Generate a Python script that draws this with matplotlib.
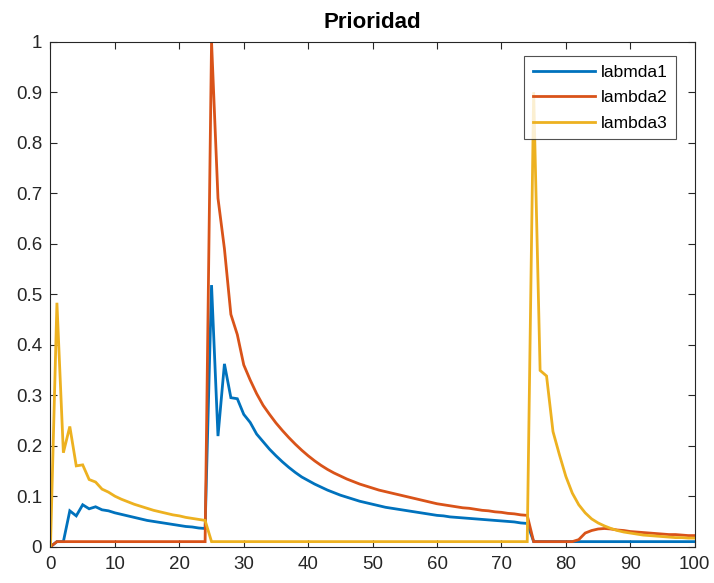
import matplotlib
matplotlib.use("Agg")
import matplotlib.pyplot as plt

plt.rcParams['font.family'] = ['Liberation Sans', 'DejaVu Sans']

x = list(range(0, 101))

lambda1 = (
    [0.0, 0.01, 0.01, 0.071, 0.061, 0.083, 0.075, 0.079, 0.073, 0.071,
     0.067, 0.064, 0.061, 0.058, 0.055, 0.052, 0.050, 0.048, 0.046, 0.044,
     0.042, 0.040, 0.039, 0.037, 0.036,
     0.518, 0.219, 0.362, 0.295, 0.293, 0.262, 0.246, 0.223, 0.208, 0.193,
     0.180, 0.168, 0.157, 0.147, 0.138, 0.131, 0.124, 0.118, 0.112, 0.107,
     0.102, 0.098, 0.094, 0.090, 0.087, 0.084, 0.081, 0.078, 0.076, 0.074,
     0.072, 0.070, 0.068, 0.066, 0.064, 0.062, 0.061, 0.059, 0.058, 0.057,
     0.056, 0.055, 0.054, 0.053, 0.052, 0.051, 0.050, 0.049, 0.047, 0.046]
    + [0.01] * 26
)

lambda2 = (
    [0.0] + [0.01] * 24
    + [1.0, 0.69, 0.59, 0.46, 0.42, 0.36, 0.33, 0.303, 0.280, 0.262,
       0.245, 0.230, 0.216, 0.203, 0.191, 0.180, 0.170, 0.161, 0.153, 0.146,
       0.140, 0.134, 0.129, 0.124, 0.120, 0.116, 0.112, 0.109, 0.106, 0.103,
       0.100, 0.097, 0.094, 0.091, 0.088, 0.085, 0.083, 0.081, 0.079, 0.077,
       0.076, 0.074, 0.072, 0.071, 0.069, 0.068, 0.066, 0.065, 0.063, 0.062]
    + [0.01] * 7
    + [0.014, 0.027, 0.032, 0.035, 0.036, 0.035, 0.033, 0.032, 0.030, 0.029,
       0.028, 0.027, 0.026, 0.025, 0.024, 0.024, 0.023, 0.022, 0.022]
)

lambda3 = (
    [0.0, 0.483, 0.186, 0.238, 0.160, 0.162, 0.133, 0.128, 0.114, 0.108,
     0.100, 0.094, 0.089, 0.084, 0.080, 0.076, 0.072, 0.069, 0.066, 0.063,
     0.061, 0.058, 0.056, 0.054, 0.052]
    + [0.01] * 50
    + [0.9, 0.349, 0.338, 0.228, 0.182, 0.139, 0.106, 0.083, 0.067, 0.055,
       0.047, 0.041, 0.036, 0.032, 0.029, 0.027, 0.025, 0.023, 0.022, 0.021,
       0.020, 0.019, 0.018, 0.018, 0.017, 0.017]
)

series_names = ['labmda1', 'lambda2', 'lambda3']
colors = ['#0072BD', '#D95319', '#EDB120']
title = 'Prioridad'

fig = plt.figure(figsize=(7.14, 5.83), dpi=100)
ax = fig.add_axes([0.0707, 0.0623, 0.9023, 0.8662])

for ys, name, c in zip([lambda1, lambda2, lambda3], series_names, colors):
    ax.plot(x, ys, color=c, lw=2.0, label=name, solid_joinstyle='miter')

ax.set_xlim(0, 100)
ax.set_ylim(0, 1)
ax.set_xticks(range(0, 101, 10))
ax.set_yticks([i / 10 for i in range(11)])
ax.set_yticklabels(['0', '0.1', '0.2', '0.3', '0.4', '0.5', '0.6', '0.7', '0.8', '0.9', '1'])
ax.tick_params(direction='in', top=True, right=True, labelsize=13.5, length=5,
               width=0.8, colors='#262626', labelcolor='#262626')
ax.tick_params(axis='y', pad=6)
ax.tick_params(axis='x', pad=7)
for s in ax.spines.values():
    s.set_color('#262626')
    s.set_linewidth(0.8)

ax.set_title(title, fontsize=16, fontweight='bold', color='black', pad=10)

leg = ax.legend(loc='upper right', bbox_to_anchor=(0.971, 0.972), fontsize=12.5,
                frameon=True, fancybox=False, edgecolor='#262626',
                handlelength=3.6, borderpad=0.5, labelspacing=0.6,
                handletextpad=0.3, borderaxespad=0)
leg.get_frame().set_linewidth(0.8)

fig.savefig('out.png', dpi=100)
